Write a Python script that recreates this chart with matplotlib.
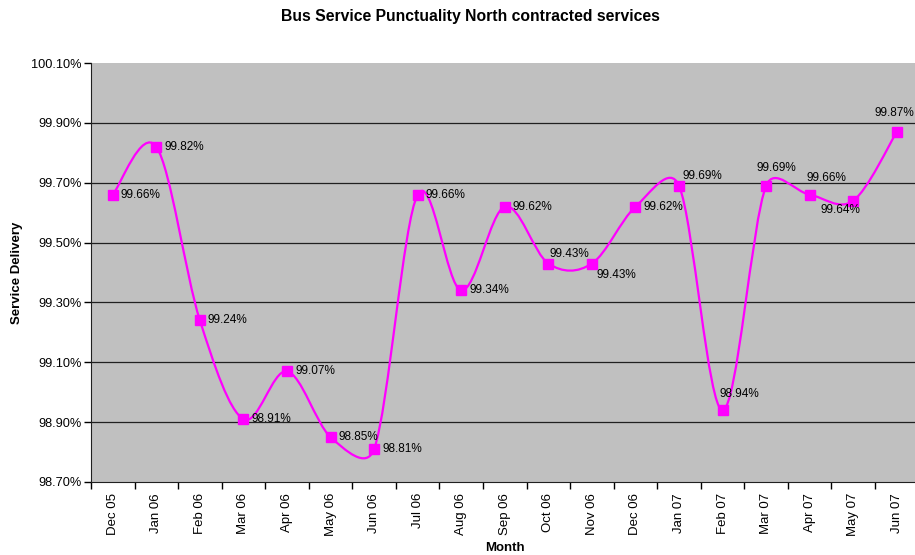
import numpy as np
import matplotlib.pyplot as plt
from matplotlib.path import Path
from matplotlib.patches import PathPatch
from matplotlib.ticker import FuncFormatter, FixedLocator

plt.rcParams['font.family'] = ['Liberation Sans', 'DejaVu Sans']

months = ['Dec 05', 'Jan 06', 'Feb 06', 'Mar 06', 'Apr 06', 'May 06', 'Jun 06',
          'Jul 06', 'Aug 06', 'Sep 06', 'Oct 06', 'Nov 06', 'Dec 06', 'Jan 07',
          'Feb 07', 'Mar 07', 'Apr 07', 'May 07', 'Jun 07']
punctuality = [99.66, 99.82, 99.24, 98.91, 99.07, 98.85, 98.81,
               99.66, 99.34, 99.62, 99.43, 99.43, 99.62, 99.69,
               98.94, 99.69, 99.66, 99.64, 99.87]

# label placement in pixels from the marker (ha, dx, dy); default is to the right
label_pos = {
    10: ('left', 1, 10),
    11: ('left', 5, -11),
    13: ('left', 3, 10),
    14: ('left', -3, 16),
    15: ('center', 10, 18),
    16: ('center', 17, 17),
    17: ('center', -13, -9),
    18: ('center', -2, 19),
}

magenta = '#FF00FF'

fig = plt.figure(figsize=(9.15, 5.55), dpi=100)
ax_w, ax_h = 827.6, 419.0
ax = fig.add_axes([91 / 915, 1 - 482 / 555, ax_w / 915, ax_h / 555])
ax.set_facecolor('#C0C0C0')

n = len(months)
x = np.arange(n)
y = np.array(punctuality)
ymin, ymax = 98.70, 100.10

# smoothed line (spreadsheet style): Bezier segments built in pixel space,
# control arms limited to half the segment length
sx = ax_w / n
sy = ax_h / (ymax - ymin)
P = np.column_stack([x * sx, (y - ymin) * sy])
verts = [(x[0], y[0])]
codes = [Path.MOVETO]
for i in range(n - 1):
    p0 = P[max(i - 1, 0)]
    p1 = P[i]
    p2 = P[i + 1]
    p3 = P[min(i + 2, n - 1)]
    d12 = np.hypot(*(p2 - p1))
    v1 = (p2 - p0) / 6
    v2 = (p3 - p1) / 6
    for v in (v1, v2):
        L = np.hypot(*v)
        if L > d12 / 2:
            v *= (d12 / 2) / L
    for pt in (p1 + v1, p2 - v2, p2):
        verts.append((pt[0] / sx, pt[1] / sy + ymin))
    codes += [Path.CURVE4] * 3
ax.add_patch(PathPatch(Path(verts, codes), facecolor='none', edgecolor=magenta,
                       lw=1.6, zorder=3, clip_on=False))
ax.plot(x, y, linestyle='none', marker='s', markersize=6.5, color=magenta,
        zorder=4, clip_on=False)

for i, v in enumerate(punctuality):
    ha, dx, dy = label_pos.get(i, ('left', 8, 0))
    ax.annotate(f'{v:.2f}%', (x[i], v), xytext=(dx, dy), textcoords='offset pixels',
                ha=ha, va='center', fontsize=8.5, color='black', zorder=5)

ax.set_xlim(-0.5, n - 0.5)
ax.set_ylim(ymin, ymax)
yticks = np.arange(ymin, ymax + 0.01, 0.2)
ax.set_yticks(yticks)
ax.yaxis.set_major_formatter(FuncFormatter(lambda v, p: f'{v:.2f}%'))
for t in yticks[1:-1]:
    ax.axhline(t, color='#202020', lw=0.9, zorder=1)

ax.xaxis.set_major_locator(FixedLocator(np.arange(-0.5, n, 1.0)))
ax.xaxis.set_major_formatter(FuncFormatter(lambda v, p: ''))
ax.xaxis.set_minor_locator(FixedLocator(x))
ax.set_xticklabels(months, minor=True, rotation=90, fontsize=9.5)
ax.tick_params(axis='x', which='minor', length=0, pad=8)
ax.tick_params(axis='x', which='major', length=5, width=1, direction='out')
ax.tick_params(axis='y', length=5, width=1, direction='out', labelsize=9.2, pad=2)

for s in ['top', 'right']:
    ax.spines[s].set_visible(False)
ax.spines['left'].set_color('#202020')
ax.spines['bottom'].set_color('#202020')

ax.set_ylabel('Service Delivery', fontsize=9.5, fontweight='bold')
ax.set_xlabel('Month', fontsize=9.5, fontweight='bold', labelpad=4)
ax.yaxis.set_label_coords(-68 / ax_w, 0.5)
fig.text(470 / 915, 1 - 17 / 555, 'Bus Service Punctuality North contracted services',
         ha='center', va='center', fontsize=11.3, fontweight='bold')

fig.savefig('out.png', dpi=100)
